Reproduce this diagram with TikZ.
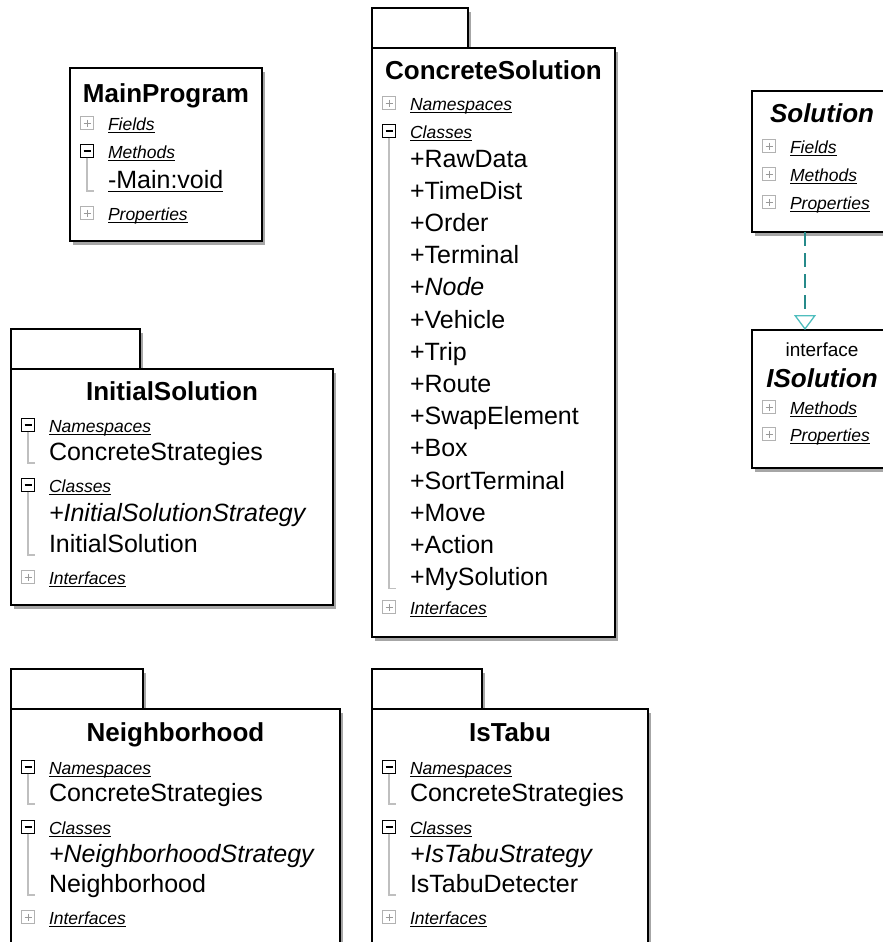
\documentclass[tikz,border=0pt]{standalone}
\usepackage{fontspec}
\setmainfont{Liberation Sans}
\usetikzlibrary{shadows,arrows.meta,calc}

% font sizes (1pt = one unit of the canvas)
\newcommand\fTitle{\fontsize{26}{30}\selectfont\bfseries}
\newcommand\fItem{\fontsize{25}{29}\selectfont}
\newcommand\fHead{\fontsize{17.5}{20}\selectfont\itshape}
\newcommand\fIface{\fontsize{19}{22}\selectfont}

\definecolor{realizeline}{RGB}{38,138,138}
\definecolor{realizehead}{RGB}{80,190,190}

\tikzset{
  frame/.style={draw=black, line width=1.6pt, fill=white, anchor=north west,
    inner sep=0pt, outer sep=0pt,
    drop shadow={shadow xshift=3pt, shadow yshift=-4pt, fill=black, opacity=0.35}},
  titletext/.style={font=\fTitle, anchor=base, inner sep=0pt, outer sep=0pt},
  itemtext/.style={font=\fItem, anchor=base west, inner sep=0pt, outer sep=0pt},
  headtext/.style={font=\fHead, anchor=base west, inner sep=0pt, outer sep=0pt},
  uline/.style={draw=black, line width=1.2pt},
  tree/.style={draw=black!25, line width=1.1pt},
  expshut/.style={draw=black!30, line width=1pt, fill=white, minimum size=13pt,
    inner sep=0pt, outer sep=0pt,
    path picture={\draw[black!40, line width=1pt]
      ($(path picture bounding box.west)+(3,0)$) -- ($(path picture bounding box.east)+(-3,0)$)
      ($(path picture bounding box.north)+(0,3)$) -- ($(path picture bounding box.south)+(0,-3)$);}},
  expopen/.style={draw=black, line width=1.5pt, fill=white, minimum size=13pt,
    inner sep=0pt, outer sep=0pt,
    path picture={\draw[black, line width=1.4pt]
      ($(path picture bounding box.west)+(3,0)$) -- ($(path picture bounding box.east)+(-3,0)$);}},
  realize/.style={draw=realizeline, line width=1.4pt, dash pattern=on 14pt off 7pt,
    -{Triangle[open, length=15pt, width=22pt, color=realizehead, line width=1.3pt]}},
}

% frame of a class or package: name, left, top, right, bottom
\newcommand\umlbox[5]{%
  \node[frame, minimum width={#4-#2}, minimum height={#5-#3}] (#1) at (#2,#3) {};}
% compartment header: name, frame left, centre y, label, expander style
\newcommand\hdrrow[5]{%
  \node[#5] (#1-x) at ({#2+17},#3) {};
  \node[headtext] (#1) at ({#2+38},{#3+7.5}) {#4};
  \draw[uline] ([yshift=-2.2pt]#1.base west) -- ([yshift=-2.2pt]#1.base east);}
% tree guide from an open header down to its last child
\newcommand\treeline[2]{%
  \coordinate (#1-end) at (#1-x.south |- #2.base);
  \draw[tree] (#1-x.south) -- ([yshift=-3pt]#1-end) -- ++(7,0);}

\begin{document}
\begin{tikzpicture}[x=1pt, y=-1pt]
\clip (0,0) rectangle (883,942);
\fill[white] (0,0) rectangle (883,942);

% ---- MainProgram ----
\umlbox{mp}{70}{68}{262}{241}
\node[titletext] (mp-title) at (166,102) {MainProgram};
\hdrrow{mp-fields}{70}{123}{Fields}{expshut}
\hdrrow{mp-methods}{70}{151}{Methods}{expopen}
\node[itemtext] (mp-main) at (108,188) {-Main:void};
\draw[uline] ([yshift=-3.5pt]mp-main.base west) -- ([yshift=-3.5pt]mp-main.base east);
\hdrrow{mp-props}{70}{213}{Properties}{expshut}
\treeline{mp-methods}{mp-main}

% ---- ConcreteSolution ----
\umlbox{cs-tab}{372}{8}{468}{48}
\umlbox{cs}{372}{48}{615}{637}
\node[titletext] (cs-title) at (493.5,80) {ConcreteSolution};
\hdrrow{cs-ns}{372}{103}{Namespaces}{expshut}
\hdrrow{cs-cls}{372}{131}{Classes}{expopen}
\foreach \t [count=\i from 0] in {+RawData, +TimeDist, +Order, +Terminal,
    +\textit{Node}, +Vehicle, +Trip, +Route, +SwapElement, +Box,
    +SortTerminal, +Move, +Action, +MySolution}
  {\node[itemtext] (cs-\i) at (410,{167+32.2*\i}) {\t};}
\treeline{cs-cls}{cs-13}
\hdrrow{cs-if}{372}{607}{Interfaces}{expshut}

% ---- InitialSolution ----
\umlbox{is-tab}{11}{329}{140}{369}
\umlbox{is}{11}{369}{333}{605}
\node[titletext] (is-title) at (172,400) {InitialSolution};
\hdrrow{is-ns}{11}{425}{Namespaces}{expopen}
\node[itemtext] (is-cs) at (49,460) {ConcreteStrategies};
\hdrrow{is-cls}{11}{485}{Classes}{expopen}
\node[itemtext] (is-strat) at (49,521) {\textit{+InitialSolutionStrategy}};
\node[itemtext] (is-impl) at (49,552) {InitialSolution};
\hdrrow{is-if}{11}{577}{Interfaces}{expshut}
\treeline{is-ns}{is-cs}
\treeline{is-cls}{is-impl}

% ---- Neighborhood ----
\umlbox{nb-tab}{11}{669}{143}{709}
\umlbox{nb}{11}{709}{340}{960}
\node[titletext] (nb-title) at (175.5,741) {Neighborhood};
\hdrrow{nb-ns}{11}{767}{Namespaces}{expopen}
\node[itemtext] (nb-cs) at (49,801) {ConcreteStrategies};
\hdrrow{nb-cls}{11}{827}{Classes}{expopen}
\node[itemtext] (nb-strat) at (49,862) {\textit{+NeighborhoodStrategy}};
\node[itemtext] (nb-impl) at (49,892) {Neighborhood};
\hdrrow{nb-if}{11}{917}{Interfaces}{expshut}
\treeline{nb-ns}{nb-cs}
\treeline{nb-cls}{nb-impl}

% ---- IsTabu ----
\umlbox{it-tab}{372}{669}{482}{709}
\umlbox{it}{372}{709}{648}{960}
\node[titletext] (it-title) at (510,741) {IsTabu};
\hdrrow{it-ns}{372}{767}{Namespaces}{expopen}
\node[itemtext] (it-cs) at (410,801) {ConcreteStrategies};
\hdrrow{it-cls}{372}{827}{Classes}{expopen}
\node[itemtext] (it-strat) at (410,862) {\textit{+IsTabuStrategy}};
\node[itemtext] (it-impl) at (410,892) {IsTabuDetecter};
\hdrrow{it-if}{372}{917}{Interfaces}{expshut}
\treeline{it-ns}{it-cs}
\treeline{it-cls}{it-impl}

% ---- Solution ----
\umlbox{sol}{752}{91}{892}{232}
\node[titletext, font=\fTitle\itshape] (sol-title) at (822,122) {Solution};
\hdrrow{sol-fields}{752}{146}{Fields}{expshut}
\hdrrow{sol-methods}{752}{174}{Methods}{expshut}
\hdrrow{sol-props}{752}{202}{Properties}{expshut}

% ---- ISolution ----
\umlbox{isol}{752}{330}{892}{468}
\node[font=\fIface, anchor=base, inner sep=0pt] (isol-stereo) at (822,356) {interface};
\node[titletext, font=\fTitle\itshape] (isol-title) at (822,387) {ISolution};
\hdrrow{isol-methods}{752}{407}{Methods}{expshut}
\hdrrow{isol-props}{752}{434}{Properties}{expshut}

% realization
\draw[realize] ([xshift=53pt]sol.south west) -- ([xshift=53pt]isol.north west);
\end{tikzpicture}
\end{document}
